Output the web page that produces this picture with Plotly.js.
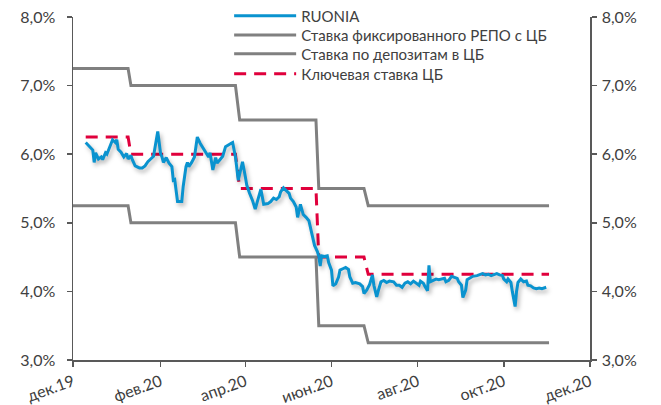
<!DOCTYPE html>
<html>
<head>
<meta charset="utf-8">
<script src="https://cdn.plot.ly/plotly-3.0.1.min.js"></script>
<style>
  html, body { margin: 0; padding: 0; background: #ffffff; }
  #chart { width: 661px; height: 405px; }
</style>
</head>
<body>
<div id="chart"></div>
<script>
// ---- data (day offsets counted from 2019-12-01) ----
const startDate = "2019-12-01";

const ruoniaDays = [
  9, 12, 14, 15, 16, 18, 20, 21, 23, 24, 26, 28, 30, 31, 32, 34, 36, 38, 39, 41,
  42, 44, 47, 49, 51, 53, 55, 57, 60, 62, 63, 64, 66, 68, 70, 71, 72, 74, 77, 78,
  80, 81, 82, 84, 86, 88, 90, 92, 94, 96, 97, 99, 101, 102, 104, 106, 108, 110, 112, 113,
  115, 117, 119, 120, 122, 123, 125, 127, 129, 131, 133, 135, 137, 138, 140, 142, 144, 146, 147, 149,
  151, 153, 154, 156, 158, 159, 161, 162, 163, 165, 167, 169, 170, 171, 173, 174, 175, 176, 178, 180,
  181, 183, 184, 186, 188, 189, 191, 193, 195, 196, 198, 200, 203, 205, 206, 208, 210, 212, 213, 215,
  216, 218, 220, 222, 224, 227, 229, 231, 233, 235, 237, 239, 241, 243, 245, 246, 248, 249, 251, 252,
  253, 255, 257, 259, 261, 263, 264, 266, 268, 270, 272, 273, 275, 276, 278, 279, 281, 283, 286, 288,
  290, 292, 294, 296, 298, 300, 302, 304, 305, 307, 308, 310, 311, 313, 314, 315, 317, 319, 321, 322,
  324, 326, 328, 330, 332, 334, 335
];
const ruoniaValues = [
  6.17, 6.11, 6.06, 5.88, 6.02, 5.93, 5.96, 5.92, 6.02, 6.00, 6.11, 6.21, 6.17, 6.21, 6.07, 6.03, 5.96, 6.01, 5.93, 5.98,
  5.92, 5.83, 5.80, 5.80, 5.83, 5.89, 5.93, 5.97, 6.33, 6.01, 5.96, 5.88, 5.95, 5.87, 5.82, 5.62, 5.63, 5.31, 5.31, 5.53,
  5.82, 5.88, 5.82, 5.88, 5.96, 6.25, 6.16, 6.09, 6.01, 5.96, 6.02, 5.77, 5.95, 5.87, 5.92, 5.97, 6.11, 6.14, 6.16, 6.17,
  5.96, 5.62, 5.82, 5.89, 5.67, 5.55, 5.43, 5.33, 5.20, 5.33, 5.49, 5.27, 5.28, 5.28, 5.31, 5.36, 5.34, 5.38, 5.45, 5.51,
  5.47, 5.43, 5.36, 5.31, 5.23, 5.08, 5.27, 5.19, 5.12, 5.08, 5.03, 4.85, 4.76, 4.67, 4.58, 4.51, 4.37, 4.52, 4.51, 4.52,
  4.42, 4.31, 4.08, 4.11, 4.21, 4.31, 4.33, 4.35, 4.32, 4.21, 4.12, 4.13, 4.11, 4.07, 3.97, 4.02, 4.10, 4.24, 4.09, 3.92,
  4.00, 4.14, 4.16, 4.13, 4.15, 4.14, 4.09, 4.09, 4.06, 4.12, 4.14, 4.11, 4.15, 4.12, 4.09, 4.15, 4.12, 4.08, 4.01, 4.38,
  4.14, 4.16, 4.18, 4.17, 4.18, 4.19, 4.14, 4.16, 4.22, 4.21, 4.19, 4.14, 4.09, 3.91, 4.02, 4.17, 4.19, 4.22, 4.23, 4.25,
  4.26, 4.24, 4.25, 4.23, 4.25, 4.26, 4.24, 4.23, 4.18, 4.14, 4.18, 4.13, 4.00, 3.78, 4.00, 4.13, 4.18, 4.14, 4.15, 4.09,
  4.08, 4.05, 4.04, 4.05, 4.04, 4.05, 4.06
];

const corridorDays = [0, 39, 41, 115, 118, 172, 174, 206, 209, 337];
const repoValues    = [7.25, 7.25, 7.00, 7.00, 6.50, 6.50, 5.50, 5.50, 5.25, 5.25];
const depositValues = [5.25, 5.25, 5.00, 5.00, 4.50, 4.50, 3.50, 3.50, 3.25, 3.25];

const keyDays   = [9, 39, 41, 115, 118, 172, 174, 206, 209, 337];
const keyValues = [6.25, 6.25, 6.00, 6.00, 5.50, 5.50, 4.50, 4.50, 4.25, 4.25];

const tickDates  = ["2019-12-01", "2020-02-01", "2020-04-01", "2020-06-01", "2020-08-01", "2020-10-01", "2020-12-01"];
const tickLabels = ["дек.19", "фев.20", "апр.20", "июн.20", "авг.20", "окт.20", "дек.20"];
const yTicks = [3, 4, 5, 6, 7, 8];
const yTickLabels = ["3,0%", "4,0%", "5,0%", "6,0%", "7,0%", "8,0%"];

const seriesNames = ["RUONIA", "Ставка фиксированного РЕПО с ЦБ", "Ставка по депозитам в ЦБ", "Ключевая ставка ЦБ"];

// ---- helpers ----
const base = Date.parse(startDate + "T00:00:00Z");
const toDate = d => new Date(base + d * 86400000).toISOString().slice(0, 10);

const FONT = "Lato, 'Open Sans', sans-serif";
const TXT = "#404040";
const AX = "#595959";

const traces = [
  {
    x: corridorDays.map(toDate), y: repoValues, name: seriesNames[1], legend: "legend2",
    type: "scatter", mode: "lines",
    line: { color: "#808080", width: 3 }
  },
  {
    x: corridorDays.map(toDate), y: depositValues, name: seriesNames[2], legend: "legend3",
    type: "scatter", mode: "lines",
    line: { color: "#808080", width: 3 }
  },
  {
    x: keyDays.map(toDate), y: keyValues, name: seriesNames[3], legend: "legend4",
    type: "scatter", mode: "lines",
    line: { color: "#E0003C", width: 3, dash: "12px,8px" }
  },
  {
    x: ruoniaDays.map(toDate), y: ruoniaValues, name: seriesNames[0], legend: "legend",
    type: "scatter", mode: "lines",
    line: { color: "#0A93CF", width: 3 }
  },
  {
    x: [tickDates[0]], y: [yTicks[0]], yaxis: "y2", showlegend: false,
    type: "scatter", mode: "markers", marker: { opacity: 0 }, hoverinfo: "skip"
  }
];

const yCommon = {
  range: [3, 8], tickvals: yTicks, ticktext: yTickLabels,
  showgrid: false, zeroline: false, showline: true, linecolor: AX, linewidth: 1.5,
  ticks: "outside", ticklen: 5, tickcolor: AX, tickwidth: 1.5,
  tickfont: { family: FONT, size: 16, color: TXT }
};

function legendAt(yPaper) {
  return {
    x: 0.302, xanchor: "left", y: yPaper, yanchor: "middle",
    bgcolor: "rgba(255,255,255,0)", borderwidth: 0,
    font: { family: FONT, size: 15, color: TXT },
    itemwidth: 62, tracegroupgap: 0
  };
}

const layout = {
  width: 661, height: 405,
  margin: { l: 73, r: 71, t: 17, b: 45, autoexpand: false },
  paper_bgcolor: "#ffffff", plot_bgcolor: "#ffffff",
  showlegend: true,
  legend: legendAt(1.003),
  legend2: legendAt(0.947),
  legend3: legendAt(0.892),
  legend4: legendAt(0.834),
  xaxis: {
    type: "date", range: [tickDates[0], tickDates[tickDates.length - 1]],
    tickvals: tickDates, ticktext: tickLabels, tickangle: -20,
    showgrid: false, zeroline: false, showline: true, linecolor: AX, linewidth: 1.5,
    ticks: "outside", ticklen: 5, tickcolor: AX, tickwidth: 1.5,
    tickfont: { family: FONT, size: 16, color: TXT }
  },
  yaxis: Object.assign({}, yCommon, { side: "left", ticklabelstandoff: 8 }),
  yaxis2: Object.assign({}, yCommon, { side: "right", overlaying: "y", ticklabelstandoff: 2 })
};

Plotly.newPlot("chart", traces, layout, { staticPlot: true, displayModeBar: false }).then(gd => {
  const tr = gd.querySelectorAll(".scatterlayer .trace");
  if (tr.length >= 4) {
    const p = tr[3].querySelector("path.js-line");
    if (p) p.style.filter = "drop-shadow(2px 3px 2px rgba(0,0,0,0.28))";
  }
});
</script>
</body>
</html>
